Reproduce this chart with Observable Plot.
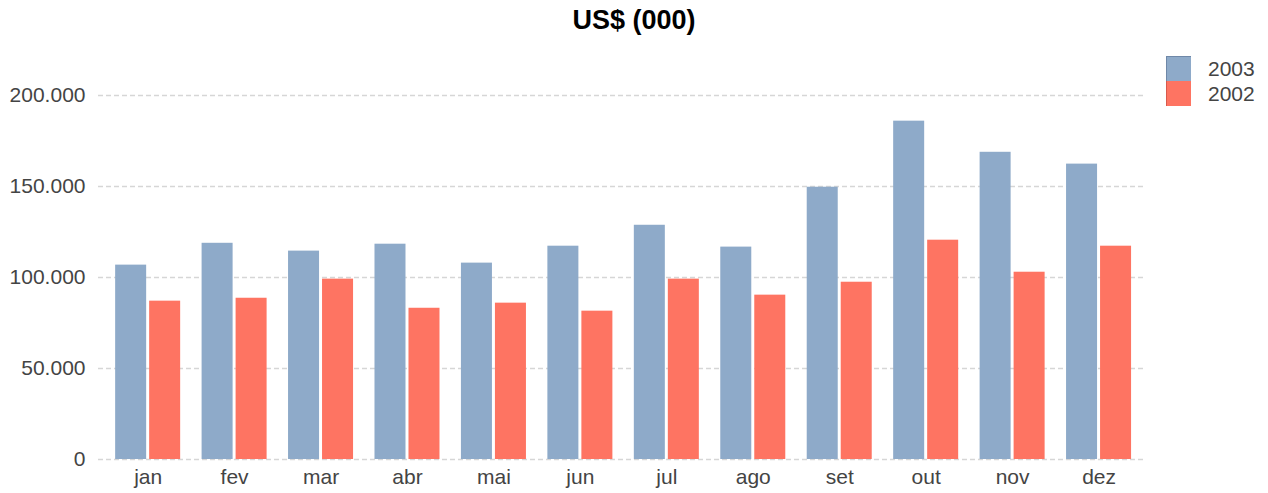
<!DOCTYPE html>
<html>
<head>
<meta charset="utf-8">
<script src="https://cdn.jsdelivr.net/npm/d3@7"></script>
<script src="https://cdn.jsdelivr.net/npm/@observablehq/plot@0.6"></script>
<style>
  html, body { margin: 0; padding: 0; background: #fff; }
  body { width: 1268px; height: 493px; position: relative; overflow: hidden; font-family: "Liberation Sans", Arial, sans-serif; }
  #title { height: 40px; line-height: 40px; text-align: center; font-weight: bold; font-size: 27px; color: #000; }
  #legend { position: absolute; left: 1166px; top: 56px; }
  .item { display: flex; align-items: center; height: 25px; }
  .sw { width: 25px; height: 25px; box-sizing: border-box; }
  .lab { margin-left: 17px; font-size: 21px; color: #444; }
</style>
</head>
<body>
<div id="title">US$ (000)</div>
<div id="chart"></div>
<div id="legend"></div>
<script>
const months = ["jan", "fev", "mar", "abr", "mai", "jun", "jul", "ago", "set", "out", "nov", "dez"];
const series = ["2003", "2002"];
const colors = ["#8eaac9", "#fe7462"];
const values2003 = [106800, 118800, 114500, 118300, 107900, 117200, 128700, 116700, 149600, 185900, 168800, 162300];
const values2002 = [87000, 88600, 99100, 83100, 85900, 81500, 99100, 90300, 97400, 120500, 102900, 117200];
const yTicks = [0, 50000, 100000, 150000, 200000];

const data2003 = months.map((m, i) => ({month: m, value: values2003[i]}));
const data2002 = months.map((m, i) => ({month: m, value: values2002[i]}));

const locale = d3.formatLocale({decimal: ",", thousands: ".", grouping: [3], currency: ["R$", ""]});
const fmt = locale.format(",d");

const chart = Plot.plot({
  width: 1268,
  height: 453,
  marginLeft: 98,
  marginRight: 124,
  marginTop: 55,
  marginBottom: 34,
  style: {fontFamily: "'Liberation Sans', Arial, sans-serif", fontSize: "21px", color: "#444", background: "#fff"},
  x: {domain: months, paddingInner: 0.248, paddingOuter: 0.174, align: 0.57, round: false, label: null, tickSize: 0, tickPadding: 10},
  y: {domain: [0, 200000], ticks: yTicks, tickFormat: fmt, label: null, tickSize: 0, tickPadding: 13},
  marks: [
    Plot.ruleY(yTicks, {stroke: "#d6d6d6", strokeWidth: 1.3, strokeDasharray: "5,3"}),
    Plot.barY(data2003, {x: "month", y: "value", fill: colors[0], insetRight: 34}),
    Plot.barY(data2002, {x: "month", y: "value", fill: colors[1], insetLeft: 34})
  ]
});
document.getElementById("chart").appendChild(chart);

const legend = document.getElementById("legend");
const borders = ["#6f88a8", "#d85a4c"];
series.forEach((s, i) => {
  const item = document.createElement("div");
  item.className = "item";
  const sw = document.createElement("div");
  sw.className = "sw";
  sw.style.background = colors[i];
  sw.style.borderStyle = "solid";
  sw.style.borderColor = borders[i];
  sw.style.borderWidth = i === 0 ? "1px 0 0 1px" : "0 0 0 1px";
  const lab = document.createElement("span");
  lab.className = "lab";
  lab.textContent = s;
  item.appendChild(sw);
  item.appendChild(lab);
  legend.appendChild(item);
});
</script>
</body>
</html>
